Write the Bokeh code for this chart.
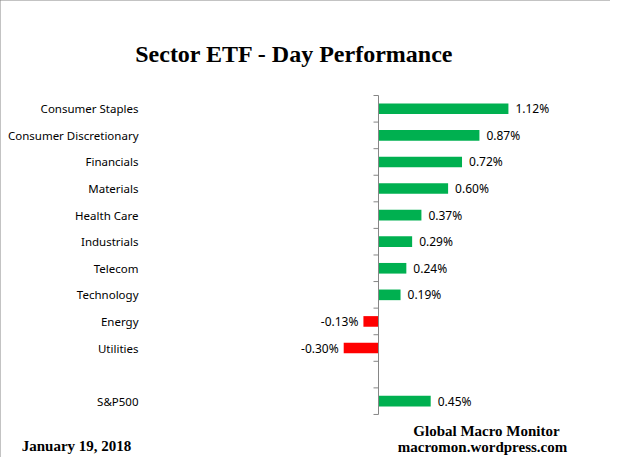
from bokeh.plotting import figure
from bokeh.models import ColumnDataSource, Range1d, Label
from bokeh.embed import file_html
from bokeh.resources import INLINE
from bokeh.core.properties import value

# ---- data ----
categories = ["Consumer Staples", "Consumer Discretionary", "Financials", "Materials",
              "Health Care", "Industrials", "Telecom", "Technology", "Energy",
              "Utilities", "", "S&P500"]
performance = [1.12, 0.87, 0.72, 0.60, 0.37, 0.29, 0.24, 0.19, -0.13, -0.30, None, 0.45]
title_text = "Sector ETF - Day  Performance"
date_text = "January 19, 2018"
source_line1 = "Global Macro Monitor"
source_line2 = "macromon.wordpress.com"

GREEN = "#00B050"
RED = "#FF0000"
AXIS = "#868686"

W, H = 610, 457
PX_PER_PCT = 116.0      # horizontal scale (pixels per 1%)
ZERO_PX = 378.0         # where 0% sits on the canvas
SLOT_PX = 26.58         # height of one category slot
TOP_PX = 95.0           # top of first category slot

pos_y, pos_v, pos_lbl = [], [], []
neg_y, neg_v, neg_lbl = [], [], []
for i, v in enumerate(performance):
    if v is None:
        continue
    if v >= 0:
        pos_y.append(i); pos_v.append(v); pos_lbl.append(f"{v:.2f}%")
    else:
        neg_y.append(i); neg_v.append(v); neg_lbl.append(f"{v:.2f}%")

pos_src = ColumnDataSource(dict(y=pos_y, v=pos_v, label=pos_lbl))
neg_src = ColumnDataSource(dict(y=neg_y, v=neg_v, label=neg_lbl))
cat_src = ColumnDataSource(dict(y=list(range(len(categories))), x=[0] * len(categories),
                                name=categories))

n = len(categories)
x_range = Range1d(-ZERO_PX / PX_PER_PCT, (W - ZERO_PX) / PX_PER_PCT)
y_range = Range1d(-0.5 + (H - TOP_PX) / SLOT_PX, -0.5 - TOP_PX / SLOT_PX)

p = figure(width=W, height=H, x_range=x_range, y_range=y_range,
           output_backend="svg", toolbar_location=None,
           min_border=0, x_axis_location=None, y_axis_location=None)
p.background_fill_color = "white"
p.border_fill_color = "white"
p.outline_line_color = None
p.grid.visible = False
p.styles = {"outline": "1px solid #868686", "outline-offset": "-1px"}

p.hbar(y="y", left=0, right="v", height=0.4, fill_color=GREEN, line_color=None, source=pos_src)
p.hbar(y="y", left=0, right="v", height=0.4, fill_color=RED, line_color=None, source=neg_src)

lbl_font = value("Noto Sans")
p.text(x="v", y="y", text="label", source=pos_src, x_offset=7, text_align="left",
       text_baseline="middle", text_font=lbl_font, text_font_size="12px", text_color="black")
p.text(x="v", y="y", text="label", source=neg_src, x_offset=-5, text_align="right",
       text_baseline="middle", text_font=lbl_font, text_font_size="12px", text_color="black")

# category labels (vertical axis labels)
p.text(x="x", y="y", text="name", source=cat_src, x_offset=-(ZERO_PX - 138), text_align="right",
       text_baseline="middle", text_font=lbl_font, text_font_size="11.5px", text_color="black")

# zero axis line with category-boundary ticks
p.segment(x0=[0], y0=[-0.5], x1=[0], y1=[n - 0.5], line_color=AXIS, line_width=1)
bounds = [i - 0.5 for i in range(n + 1)]
p.ray(x=[0] * len(bounds), y=bounds, length=5, length_units="screen", angle=3.14159265,
      line_color=AXIS, line_width=1)

serif = "Liberation Serif"
def add_text(txt, cx, baseline_y, size):
    p.add_layout(Label(x=cx, y=H - baseline_y, x_units="screen", y_units="screen", text=txt,
                       text_align="center", text_baseline="alphabetic", text_font=serif,
                       text_font_style="bold", text_font_size=size, text_color="black"))

add_text(title_text, 297, 53, "24px")
add_text(source_line1, 486, 430, "15px")
add_text(source_line2, 482, 446, "15px")
add_text(date_text, 76, 445, "15px")

open("out.html", "w").write(file_html(p, INLINE))
